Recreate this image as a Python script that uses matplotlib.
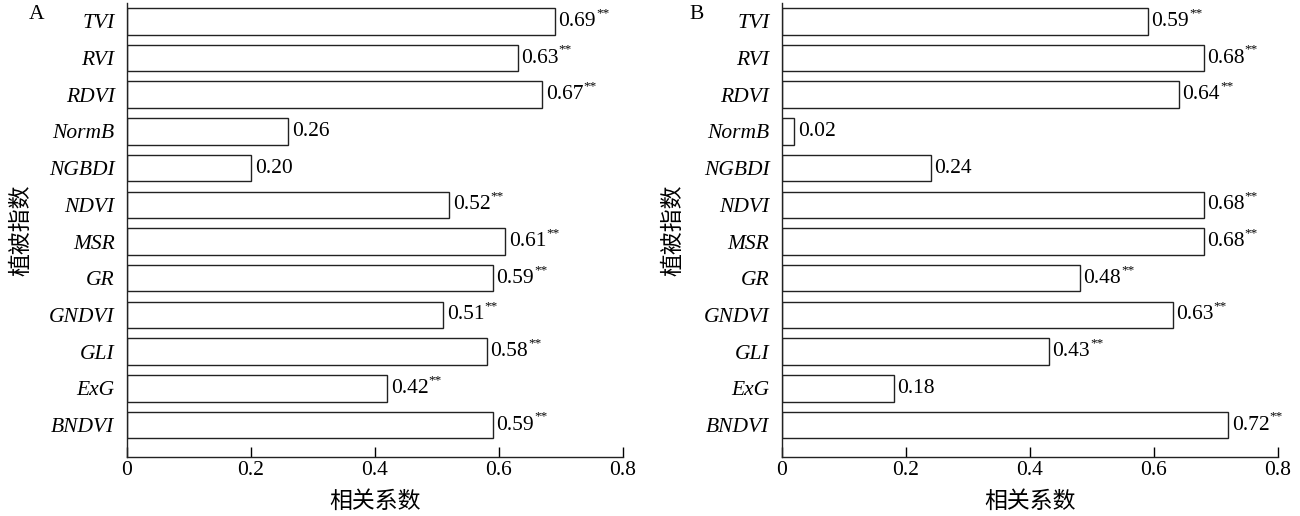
import matplotlib
matplotlib.use("Agg")
import matplotlib.pyplot as plt
import numpy as np

plt.rcParams['font.family'] = ['Liberation Serif', 'Noto Sans CJK SC']

indices = ['TVI', 'RVI', 'RDVI', 'NormB', 'NGBDI', 'NDVI', 'MSR', 'GR',
           'GNDVI', 'GLI', 'ExG', 'BNDVI']
corr_a = [0.69, 0.63, 0.67, 0.26, 0.20, 0.52, 0.61, 0.59, 0.51, 0.58, 0.42, 0.59]
sig_a = [True, True, True, False, False, True, True, True, True, True, True, True]
corr_b = [0.59, 0.68, 0.64, 0.02, 0.24, 0.68, 0.68, 0.48, 0.63, 0.43, 0.18, 0.72]
sig_b = [True, True, True, False, False, True, True, True, True, True, False, True]
xticks = [0, 0.2, 0.4, 0.6, 0.8]
xtick_labels = ['0', '0.2', '0.4', '0.6', '0.8']

FS = 15.5
fig = plt.figure(figsize=(13, 5.16), dpi=100)


def draw_panel(left, values, sig, tag, tag_x, ylab_x):
    ax = fig.add_axes([left, 0.1143, 0.3815, 0.88])
    n = len(indices)
    pos = np.arange(n)[::-1]
    ax.barh(pos, values, height=0.72, color='white', edgecolor='#222222',
            linewidth=1.0)
    for y, v, s in zip(pos, values, sig):
        t = ax.text(v + 0.006, y, f'{v:.2f}', va='center', ha='left',
                    fontsize=FS)
        if s:
            ax.annotate('**', xy=(1, 0.62), xycoords=t, fontsize=9.5,
                        ha='left', va='bottom')
    ax.set_yticks(pos)
    ax.set_yticklabels(indices, fontstyle='italic', fontsize=FS)
    ax.tick_params(axis='y', length=0, pad=9)
    ax.set_xlim(0, 0.8)
    ax.set_ylim(-0.87, 11.5)
    ax.set_xticks(xticks)
    ax.set_xticklabels(xtick_labels, fontsize=FS)
    ax.tick_params(axis='x', direction='in', length=7, width=1, pad=3)
    for side in ('top', 'right'):
        ax.spines[side].set_visible(False)
    for side in ('left', 'bottom'):
        ax.spines[side].set_linewidth(1.0)
        ax.spines[side].set_color('#222222')
    ax.set_xlabel('相关系数', family=['Noto Sans CJK SC'], fontsize=16.5,
                  labelpad=7)
    ax.set_ylabel('植被指数', family=['Noto Sans CJK SC'], fontsize=16.5)
    ax.yaxis.set_label_coords(ylab_x, 0.5)
    fig.text(tag_x, 0.972, tag, fontsize=FS, ha='left', va='center')
    return ax


draw_panel(0.0977, corr_a, sig_a, 'A', 0.022, -0.19)
draw_panel(0.6015, corr_b, sig_b, 'B', 0.530, -0.196)

fig.savefig('out.png', dpi=100)
